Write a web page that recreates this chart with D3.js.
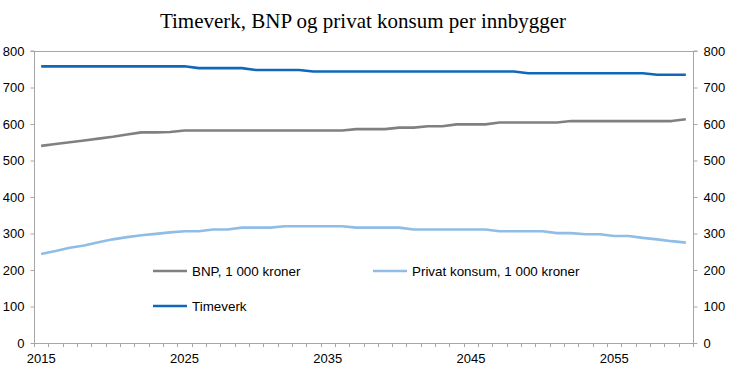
<!DOCTYPE html>
<html><head><meta charset="utf-8">
<script src="https://cdn.jsdelivr.net/npm/d3@7/dist/d3.min.js"></script>
<style>body{margin:0;background:#fff;} text{font-family:"Liberation Sans",Arial,sans-serif;}</style>
</head><body><svg id="c" width="730" height="381"></svg>
<script>
const years = d3.range(2015, 2061);
const bnp = [540,545,550,555,560,565,571,577,577,578,582,582,582,582,582,582,582,582,582,582,582,582,586,586,586,590,590,594,594,599,599,599,604,604,604,604,604,608,608,608,608,608,608,608,608,613];
const privat = [244,252,261,267,276,284,290,295,299,303,306,306,311,311,316,316,316,320,320,320,320,320,316,316,316,316,311,311,311,311,311,311,306,306,306,306,301,301,298,298,293,293,288,284,279,275];
const timeverk = [758,758,758,758,758,758,758,758,758,758,758,753,753,753,753,748,748,748,748,744,744,744,744,744,744,744,744,744,744,744,744,744,744,744,739,739,739,739,739,739,739,739,739,735,735,735];
const yTicks = [0,100,200,300,400,500,600,700,800];
const xLabels = [2015,2025,2035,2045,2055];
const seriesNames = ["BNP, 1 000 kroner","Privat konsum, 1 000 kroner","Timeverk"];
const colors = ["#808080","#8fbde5","#1268b8"];

const svg = d3.select("#c");
const L = 34, R = 693, T = 51, B = 343;
const x = d3.scaleBand().domain(years).range([L, R]);
const y = d3.scaleLinear().domain([0, 800]).range([B, T]);
const axisCol = "#a6a6a6";

svg.append("text").attr("x", 363).attr("y", 28).attr("text-anchor","middle")
  .style("font-family","'Liberation Serif','Times New Roman',serif").style("font-size","21px").text("Timeverk, BNP og privat konsum per innbygger");

svg.append("line").attr("x1",L).attr("x2",R).attr("y1",T+0.5).attr("y2",T+0.5).attr("stroke",axisCol);

const yl = svg.append("g").attr("transform",`translate(${L+0.5},0)`).call(d3.axisLeft(y).tickValues(yTicks).tickSize(4).tickPadding(6));
const yr = svg.append("g").attr("transform",`translate(${R+0.5},0)`).call(d3.axisRight(y).tickValues(yTicks).tickSize(4).tickPadding(6));
const xa = svg.append("g").attr("transform",`translate(0,${B+0.5})`)
  .call(d3.axisBottom(x).tickValues(xLabels).tickSize(0).tickPadding(10));
const bounds = years.map(d => x(d)).concat([R]);
svg.append("g").selectAll("line").data(bounds).join("line")
  .attr("x1", d=>Math.round(d)+0.5).attr("x2", d=>Math.round(d)+0.5).attr("y1",B).attr("y2",B+4).attr("stroke",axisCol);

[yl,yr,xa].forEach(g=>{
  g.selectAll("path").attr("stroke",axisCol);
  g.selectAll("line").attr("stroke",axisCol);
  g.selectAll("text").style("font-size","13px").attr("fill","#000").style("font-family","'Liberation Sans',Arial,sans-serif");
});
yl.select(".domain").attr("d",`M-4,${T}H0V${B}`);
yr.select(".domain").attr("d",`M4,${T}H0V${B}`);
xa.select(".domain").attr("d",`M${L},0H${R}`);

const line = d3.line().x((d,i)=>x(years[i])+x.bandwidth()/2).y(d=>y(d));
[bnp, privat, timeverk].forEach((s,i)=>{
  svg.append("path").datum(s).attr("d", line).attr("fill","none")
    .attr("stroke", colors[i]).attr("stroke-width", 2.6).attr("stroke-linejoin","round");
});

const leg = [{x:153,y:271},{x:373,y:271},{x:153,y:306}];
leg.forEach((p,i)=>{
  svg.append("line").attr("x1",p.x).attr("x2",p.x+34).attr("y1",p.y).attr("y2",p.y).attr("stroke",colors[i]).attr("stroke-width",2.6);
  svg.append("text").attr("x",p.x+39).attr("y",p.y+5).style("font-size","13.4px").text(seriesNames[i]);
});
</script></body></html>
